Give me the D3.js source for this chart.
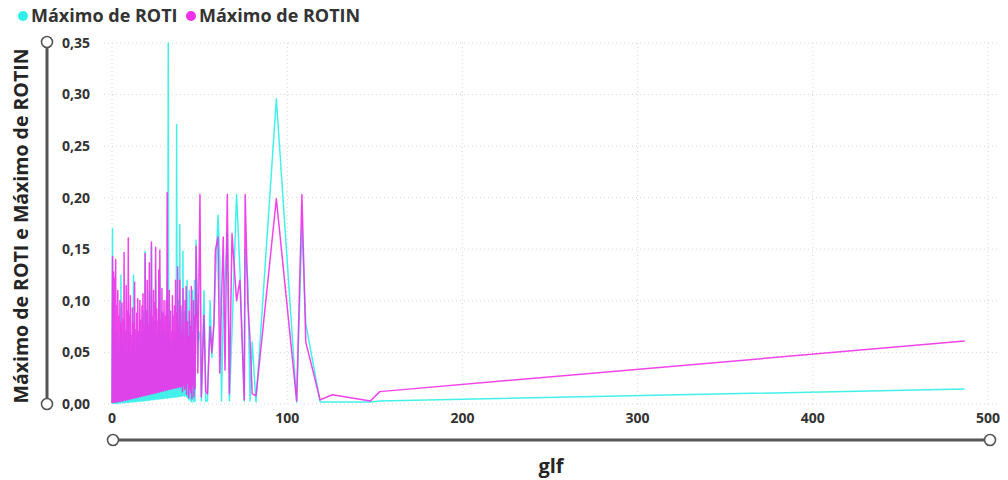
<!DOCTYPE html>
<html>
<head>
<meta charset="utf-8">
<script src="https://cdn.jsdelivr.net/npm/d3@7"></script>
<style>
  body { margin: 0; background: #fff; }
  svg { display: block; font-family: "Open Sans", "DejaVu Sans", sans-serif; }
</style>
</head>
<body>
<svg width="1008" height="480"></svg>
<script>
// glf values (x) shared by both series
const glf = [
  0.0, 0.3, 0.6, 0.9, 1.2, 1.5, 1.8, 2.1, 2.4, 2.7,
  3.0, 3.3, 3.6, 3.9, 4.2, 4.5, 4.8, 5.1, 5.4, 5.7,
  6.0, 6.3, 6.6, 6.9, 7.2, 7.5, 7.8, 8.1, 8.4, 8.7,
  9.0, 9.3, 9.6, 9.9, 10.2, 10.5, 10.8, 11.1, 11.4, 11.7,
  12.0, 12.3, 12.6, 12.9, 13.2, 13.5, 13.8, 14.1, 14.4, 14.7,
  15.0, 15.3, 15.6, 15.9, 16.2, 16.5, 16.8, 17.1, 17.4, 17.7,
  18.0, 18.3, 18.6, 18.9, 19.2, 19.5, 19.8, 20.1, 20.4, 20.7,
  21.0, 21.3, 21.6, 21.9, 22.2, 22.5, 22.8, 23.1, 23.4, 23.7,
  24.0, 24.3, 24.6, 24.9, 25.2, 25.5, 25.8, 26.1, 26.4, 26.7,
  27.0, 27.3, 27.6, 27.9, 28.2, 28.5, 28.8, 29.1, 29.4, 29.7,
  30.0, 30.3, 30.6, 30.9, 31.2, 31.5, 31.8, 32.1, 32.4, 32.7,
  33.0, 33.3, 33.6, 33.9, 34.2, 34.5, 34.8, 35.1, 35.4, 35.7,
  36.0, 36.3, 36.6, 36.9, 37.2, 37.5, 37.8, 38.1, 38.4, 38.7,
  39.0, 39.3, 39.6, 39.9, 40.2, 40.5, 40.8, 41.1, 41.4, 41.7,
  42.0, 42.3, 42.6, 42.9, 43.2, 43.5, 43.8, 44.1, 44.4, 44.7,
  45.0, 45.3, 45.6, 45.9, 46.2, 46.5, 46.8, 47.1, 47.4, 47.7,
  48.0, 49.0, 50.2, 51.0, 52.5, 53.5, 54.5, 56.0, 57.0, 58.2,
  59.0, 60.5, 61.5, 62.5, 63.5, 64.5, 65.8, 67.0, 68.5, 71.1,
  73.0, 75.5, 76.0, 77.5, 78.8, 80.0, 82.2, 93.8, 105.4, 108.4,
  110.6, 118.8, 125.8, 147.5, 152.8, 486.7
];

const maxROTI = [
  0.0005, 0.17, 0.0005, 0.113, 0.001, 0.06, 0.0005, 0.07, 0.001, 0.05,
  0.0005, 0.07, 0.001, 0.045, 0.001, 0.06, 0.001, 0.125, 0.0015, 0.05,
  0.001, 0.06, 0.0015, 0.08, 0.0015, 0.04, 0.0015, 0.07, 0.002, 0.05,
  0.0015, 0.09, 0.002, 0.06, 0.002, 0.07, 0.002, 0.05, 0.0025, 0.06,
  0.002, 0.125, 0.0025, 0.07, 0.0025, 0.045, 0.0025, 0.065, 0.003, 0.07,
  0.0025, 0.05, 0.003, 0.08, 0.003, 0.06, 0.003, 0.07, 0.0035, 0.09,
  0.003, 0.06, 0.0035, 0.148, 0.0035, 0.07, 0.0035, 0.09, 0.004, 0.06,
  0.0035, 0.11, 0.004, 0.06, 0.004, 0.153, 0.0045, 0.065, 0.004, 0.08,
  0.0045, 0.07, 0.0045, 0.12, 0.005, 0.07, 0.0045, 0.06, 0.005, 0.1,
  0.005, 0.125, 0.005, 0.06, 0.0055, 0.09, 0.005, 0.07, 0.0055, 0.08,
  0.0055, 0.07, 0.006, 0.06, 0.006, 0.12, 0.0055, 0.35, 0.0065, 0.08,
  0.006, 0.06, 0.0065, 0.05, 0.006, 0.09, 0.007, 0.06, 0.0065, 0.07,
  0.007, 0.05, 0.0065, 0.271, 0.0075, 0.08, 0.007, 0.1, 0.0075, 0.174,
  0.008, 0.06, 0.0075, 0.09, 0.008, 0.148, 0.0085, 0.07, 0.0075, 0.09,
  0.009, 0.09, 0.007, 0.12, 0.006, 0.08, 0.004, 0.11, 0.005, 0.06,
  0.003, 0.08, 0.002, 0.11, 0.005, 0.07, 0.002, 0.12, 0.003, 0.09,
  0.159, 0.06, 0.07, 0.003, 0.11, 0.003, 0.003, 0.10, 0.045, 0.08,
  0.12, 0.183, 0.14, 0.003, 0.09, 0.12, 0.165, 0.003, 0.07, 0.203,
  0.13, 0.003, 0.15, 0.12, 0.003, 0.06, 0.002, 0.296, 0.002, 0.173,
  0.078, 0.002, 0.002, 0.002, 0.003, 0.0145
];

const maxROTIN = [
  0.001, 0.143, 0.0015, 0.128, 0.002, 0.122, 0.0015, 0.14, 0.0025, 0.095,
  0.002, 0.11, 0.0025, 0.085, 0.003, 0.1, 0.0025, 0.078, 0.0035, 0.098,
  0.003, 0.082, 0.0035, 0.147, 0.004, 0.07, 0.0035, 0.115, 0.0045, 0.09,
  0.004, 0.161, 0.005, 0.085, 0.0045, 0.105, 0.0055, 0.066, 0.005, 0.093,
  0.006, 0.078, 0.0055, 0.118, 0.0065, 0.072, 0.006, 0.088, 0.007, 0.102,
  0.0065, 0.07, 0.0075, 0.1, 0.007, 0.081, 0.008, 0.095, 0.0075, 0.107,
  0.0085, 0.075, 0.008, 0.146, 0.009, 0.09, 0.0085, 0.12, 0.0095, 0.076,
  0.009, 0.137, 0.01, 0.085, 0.0095, 0.157, 0.0105, 0.084, 0.01, 0.11,
  0.011, 0.098, 0.0105, 0.152, 0.0115, 0.092, 0.011, 0.08, 0.012, 0.13,
  0.0115, 0.149, 0.0125, 0.08, 0.012, 0.112, 0.013, 0.088, 0.0125, 0.1,
  0.0135, 0.085, 0.013, 0.1, 0.014, 0.205, 0.0135, 0.078, 0.0145, 0.11,
  0.014, 0.09, 0.015, 0.07, 0.0145, 0.105, 0.0155, 0.085, 0.015, 0.095,
  0.016, 0.12, 0.0155, 0.088, 0.0165, 0.133, 0.016, 0.075, 0.017, 0.12,
  0.0165, 0.095, 0.0175, 0.07, 0.012, 0.112, 0.018, 0.06, 0.014, 0.1,
  0.016, 0.114, 0.009, 0.08, 0.02, 0.065, 0.006, 0.09, 0.015, 0.075,
  0.011, 0.114, 0.005, 0.07, 0.018, 0.1, 0.007, 0.085, 0.015, 0.09,
  0.153, 0.03, 0.203, 0.007, 0.086, 0.012, 0.01, 0.075, 0.05, 0.078,
  0.149, 0.162, 0.03, 0.10, 0.162, 0.033, 0.203, 0.01, 0.165, 0.10,
  0.12, 0.004, 0.203, 0.10, 0.062, 0.01, 0.008, 0.199, 0.003, 0.203,
  0.060, 0.004, 0.009, 0.003, 0.012, 0.061
];

const xTicks = [0, 100, 200, 300, 400, 500];
const yTicks = [0, 0.05, 0.10, 0.15, 0.20, 0.25, 0.30, 0.35];
const seriesNames = ['Máximo de ROTI', 'Máximo de ROTIN'];
const seriesColors = ['#2ff0e8', '#ee30e8'];

const svg = d3.select('svg');
const textColor = '#333';
const fmt = (v) => d3.format('.2f')(v).replace('.', ',');

const x = d3.scaleLinear().domain([0, 500]).range([112, 988]);
const y = d3.scaleLinear().domain([0, 0.35]).range([404, 43]);

// grid
const grid = svg.append('g');
grid.selectAll('.hgrid')
  .data(yTicks)
  .join('line')
  .attr('x1', 104).attr('x2', 1000)
  .attr('y1', (d) => y(d)).attr('y2', (d) => y(d))
  .attr('stroke', '#d6d6d6')
  .attr('stroke-dasharray', '1,3');
grid.selectAll('.vgrid')
  .data(xTicks)
  .join('line')
  .attr('x1', (d) => x(d)).attr('x2', (d) => x(d))
  .attr('y1', 43).attr('y2', 404)
  .attr('stroke', '#d6d6d6')
  .attr('stroke-dasharray', '1,3');

// lines
const rows = glf.map((g, i) => ({ g, roti: maxROTI[i], rotin: maxROTIN[i] }));
const series = [
  { key: 'roti', color: seriesColors[0] },
  { key: 'rotin', color: seriesColors[1] },
];
series.forEach((s) => {
  const line = d3.line()
    .x((d) => x(d.g))
    .y((d) => y(d[s.key]));
  svg.append('path')
    .datum(rows)
    .attr('fill', 'none')
    .attr('stroke', s.color)
    .attr('stroke-width', 1.5)
    .attr('stroke-linejoin', 'round')
    .attr('stroke-opacity', 0.9)
    .attr('d', line);
});

// y tick labels
svg.append('g')
  .selectAll('text')
  .data(yTicks)
  .join('text')
  .attr('x', 62)
  .attr('y', (d) => y(d))
  .attr('dy', '0.35em')
  .attr('fill', textColor)
  .style('font-size', '14px')
  .style('font-weight', 'bold')
  .text(fmt);

// x tick labels
svg.append('g')
  .selectAll('text')
  .data(xTicks)
  .join('text')
  .attr('x', (d) => x(d))
  .attr('y', 423)
  .attr('text-anchor', 'middle')
  .attr('fill', textColor)
  .style('font-size', '14px')
  .style('font-weight', 'bold')
  .text((d) => d);

// scroll bars
function scrollBar(x1, y1, x2, y2) {
  const g = svg.append('g');
  g.append('line')
    .attr('x1', x1).attr('y1', y1).attr('x2', x2).attr('y2', y2)
    .attr('stroke', '#555').attr('stroke-width', 3);
  [[x1, y1], [x2, y2]].forEach(([cx, cy]) => {
    g.append('circle')
      .attr('cx', cx).attr('cy', cy).attr('r', 5.5)
      .attr('fill', '#fff').attr('stroke', '#555').attr('stroke-width', 1.6);
  });
}
scrollBar(47, 42, 47, 404);
scrollBar(113, 440, 990, 440);

// axis titles
svg.append('text')
  .attr('transform', 'translate(28,226) rotate(-90)')
  .attr('text-anchor', 'middle')
  .attr('fill', '#252525')
  .style('font-size', '19.5px')
  .style('font-weight', 'bold')
  .text('Máximo de ROTI e Máximo de ROTIN');

svg.append('text')
  .attr('x', 551)
  .attr('y', 473)
  .attr('text-anchor', 'middle')
  .attr('fill', '#252525')
  .style('font-size', '20px')
  .style('font-weight', 'bold')
  .text('glf');

// legend
const legend = svg.append('g');
const legendX = [23, 191];
seriesNames.forEach((name, i) => {
  legend.append('circle')
    .attr('cx', legendX[i]).attr('cy', 16).attr('r', 5)
    .attr('fill', seriesColors[i]);
  legend.append('text')
    .attr('x', legendX[i] + 8)
    .attr('y', 16)
    .attr('dy', '0.35em')
    .attr('fill', textColor)
    .style('font-size', '18px')
    .style('font-weight', 'bold')
    .text(name);
});
</script>
</body>
</html>
